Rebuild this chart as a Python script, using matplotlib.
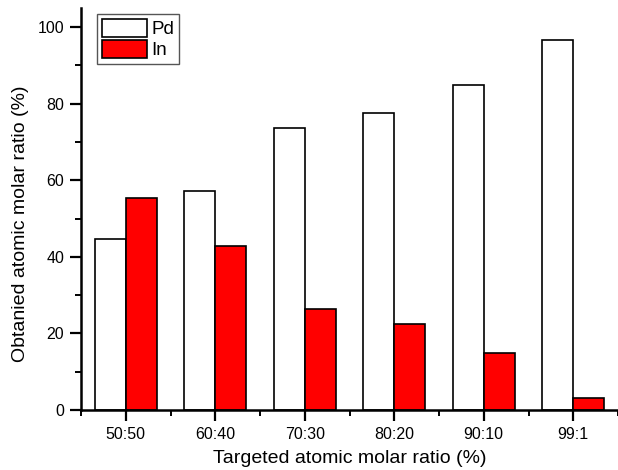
import numpy as np
import matplotlib
matplotlib.use('Agg')
import matplotlib.pyplot as plt
from matplotlib.ticker import MultipleLocator

plt.rcParams['font.family'] = ['Liberation Sans', 'DejaVu Sans']

ratios = ['50:50', '60:40', '70:30', '80:20', '90:10', '99:1']
pd_vals = [44.6, 57.2, 73.7, 77.7, 85.0, 96.7]
in_vals = [55.4, 42.8, 26.3, 22.4, 15.0, 3.2]

def main():
    x = np.arange(1, len(ratios) + 1)
    w = 0.345

    fig = plt.figure(figsize=(6.18, 4.70), dpi=100)
    ax = fig.add_axes([81/618, 60/470, 537/618, 402/470])

    ax.bar(x - w, pd_vals, w, align='edge', color='white', ec='k', lw=1.2, label='Pd')
    ax.bar(x, in_vals, w, align='edge', color='#ff0000', ec='k', lw=1.2, label='In')

    ax.set_xlim(0.5, 6.5)
    ax.set_ylim(0, 105)
    ax.set_xticks(x)
    ax.set_xticklabels(ratios)
    ax.xaxis.set_minor_locator(MultipleLocator(1.0, offset=0.5))
    ax.yaxis.set_major_locator(MultipleLocator(20))
    ax.yaxis.set_minor_locator(MultipleLocator(10))

    for s in ['top', 'right']:
        ax.spines[s].set_visible(False)
    for s in ['left', 'bottom']:
        ax.spines[s].set_linewidth(1.8)

    ax.tick_params(which='major', direction='out', length=8, width=1.6, labelsize=11.5, pad=4)
    ax.tick_params(which='minor', direction='out', length=4.5, width=1.4)

    ax.set_xlabel('Targeted atomic molar ratio (%)', size=14, labelpad=6)
    ax.set_ylabel('Obtanied atomic molar ratio (%)', size=14)
    # etiqueta um pouco abaixo do centro, como no original
    ax.yaxis.set_label_coords(-0.097, 0.464)

    leg = ax.legend(loc='upper left', bbox_to_anchor=(0.03, 0.985), fontsize=13.5,
                    fancybox=False, edgecolor='#555555', framealpha=1,
                    handlelength=2.4, handleheight=1.1, handletextpad=0.25,
                    borderpad=0.25, labelspacing=0.1, borderaxespad=0)
    leg.get_frame().set_linewidth(1.0)

    fig.savefig('out.png', dpi=100)


if __name__ == '__main__':
    main()
